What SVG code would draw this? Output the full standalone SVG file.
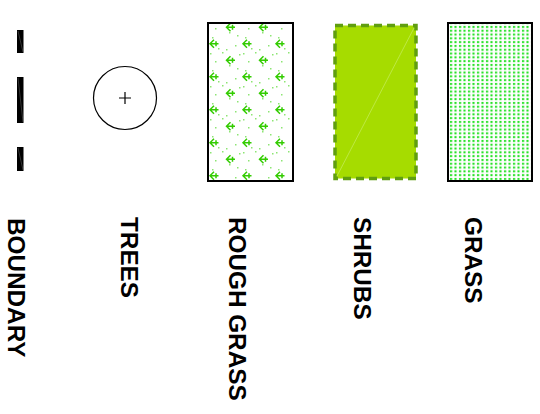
<svg xmlns="http://www.w3.org/2000/svg" width="540" height="414" viewBox="0 0 540 414">
<style>
.lbl{font-family:"Liberation Sans",Arial,sans-serif;font-weight:bold;font-size:24.3px;fill:#000}
.frame{stroke:#000;stroke-width:2;fill:none}
.arr{fill:none;stroke:#33cc00;stroke-width:1.5}
.bar{fill:#000}
.bdiag{stroke:#666;stroke-width:0.5}
</style>
<defs>
<path id="ar" class="arr" d="M-4 0H4.5M0 -4L-4 0L0 4M2 -2.5V2.5"/>
<pattern id="speck" patternUnits="userSpaceOnUse" x="208" y="23" width="33" height="33">
<rect width="33" height="33" fill="#fff"/>
<g fill="#6d4" opacity="0.75">
<rect x="7" y="5" width="1.5" height="1.5"/>
<rect x="24" y="3" width="1.5" height="1.5"/>
<rect x="10" y="25" width="1.5" height="1.5"/>
<rect x="27" y="22" width="1.5" height="1.5"/>
<rect x="4" y="14" width="1.5" height="1.5"/>
<rect x="21" y="9" width="1.5" height="1.5"/>
<rect x="14" y="29" width="1.5" height="1.5"/>
<rect x="29" y="12" width="1.5" height="1.5"/>
<rect x="2" y="30" width="1.5" height="1.5"/>
<rect x="18" y="26" width="1.5" height="1.5"/>
<rect x="31" y="31" width="1.5" height="1.5"/>
</g>
</pattern>
<pattern id="grass" patternUnits="userSpaceOnUse" x="449" y="25" width="4.5" height="3.8">
<rect width="4.5" height="3.8" fill="#fff"/>
<rect x="1" y="0.9" width="2.1" height="2.1" fill="#22e022"/>
</pattern>
<clipPath id="rc"><rect x="208" y="23" width="85" height="158"/></clipPath>
</defs>

<g id="boundary">
<rect class="bar" x="17" y="30" width="6.5" height="23"/>
<rect class="bar" x="17" y="77" width="6.5" height="46"/>
<rect class="bar" x="17" y="147" width="6.5" height="24"/>
<line class="bdiag" x1="18" y1="31" x2="23" y2="52"/>
<line class="bdiag" x1="18" y1="78" x2="23" y2="122"/>
<line class="bdiag" x1="18" y1="148" x2="23" y2="170"/>
</g>

<g id="trees">
<circle cx="125" cy="98" r="31.5" fill="#fff" stroke="#000" stroke-width="1.2"/>
<path d="M119 98H131M125 92V104" stroke="#000" stroke-width="1.2"/>
</g>

<g id="rough-grass">
<rect x="208" y="23" width="85" height="158" fill="url(#speck)"/>
<g clip-path="url(#rc)">
<use href="#ar" x="230.5" y="27.3"/><use href="#ar" x="263.5" y="27.3"/>
<use href="#ar" x="214" y="43.8"/><use href="#ar" x="247" y="43.8"/><use href="#ar" x="280" y="43.8"/>
<use href="#ar" x="230.5" y="60.3"/><use href="#ar" x="263.5" y="60.3"/>
<use href="#ar" x="214" y="76.8"/><use href="#ar" x="247" y="76.8"/><use href="#ar" x="280" y="76.8"/>
<use href="#ar" x="230.5" y="93.3"/><use href="#ar" x="263.5" y="93.3"/>
<use href="#ar" x="214" y="109.8"/><use href="#ar" x="247" y="109.8"/><use href="#ar" x="280" y="109.8"/>
<use href="#ar" x="230.5" y="126.3"/><use href="#ar" x="263.5" y="126.3"/>
<use href="#ar" x="214" y="142.8"/><use href="#ar" x="247" y="142.8"/><use href="#ar" x="280" y="142.8"/>
<use href="#ar" x="230.5" y="159.3"/><use href="#ar" x="263.5" y="159.3"/>
<use href="#ar" x="214" y="175.8"/><use href="#ar" x="247" y="175.8"/><use href="#ar" x="280" y="175.8"/>
</g>
<rect class="frame" x="208" y="23" width="85" height="158"/>
</g>

<g id="shrubs">
<rect x="335" y="25.5" width="81" height="153" fill="#a6dc00" stroke="#609e10" stroke-width="3.5" stroke-dasharray="8,5"/>
<line x1="337" y1="176" x2="414" y2="28" stroke="#cdf070" stroke-width="0.6"/>
</g>

<g id="grass">
<rect x="448" y="23" width="84" height="158" fill="url(#grass)" stroke="#000" stroke-width="2"/>
</g>

<g id="labels">
<text class="lbl" x="7.5" y="218" transform="rotate(90 7.5 218)">BOUNDARY</text>
<text class="lbl" x="120.5" y="217" transform="rotate(90 120.5 217)">TREES</text>
<text class="lbl" x="229" y="217" transform="rotate(90 229 217)">ROUGH GRASS</text>
<text class="lbl" x="353.5" y="217" transform="rotate(90 353.5 217)">SHRUBS</text>
<text class="lbl" x="465" y="217" transform="rotate(90 465 217)">GRASS</text>
</g>
</svg>
